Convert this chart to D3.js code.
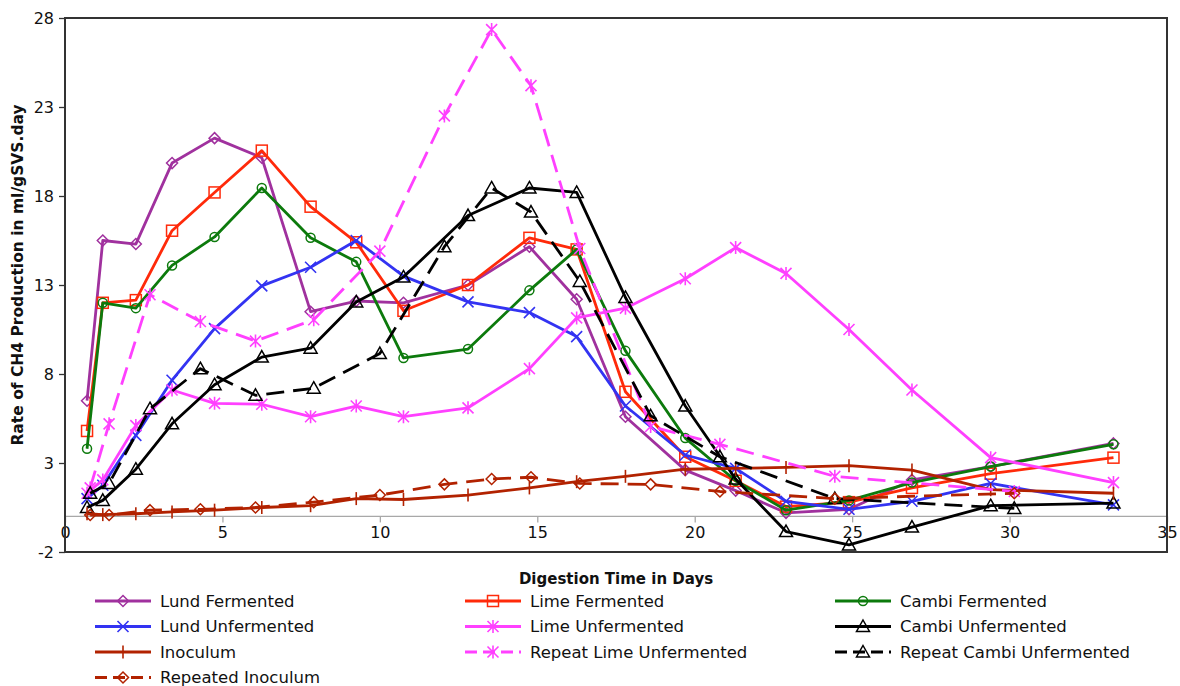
<!DOCTYPE html>
<html><head><meta charset="utf-8">
<script src="https://cdn.jsdelivr.net/npm/d3@7"></script>
<style>
body{margin:0;background:#fff;}
svg text{font-family:"DejaVu Sans",Verdana,sans-serif;}
</style></head>
<body><svg id="chart" width="1180" height="686"></svg>
<script>
const xMain = [0.7, 1.2, 2.25, 3.4, 4.75, 6.25, 7.8, 9.25, 10.75, 12.8, 14.75, 16.25, 17.8, 19.7, 21.3, 22.9, 24.9, 26.9, 29.4, 33.3];
const xRepeat = [0.8, 1.4, 2.7, 4.3, 6.05, 7.9, 10.0, 12.05, 13.55, 14.8, 16.35, 18.6, 20.8, 24.45, 30.15];

const lundFermented = [6.5, 15.5, 15.3, 19.85, 21.25, 20.15, 11.5, 12.1, 12.0, 13.0, 15.15, 12.2, 5.6, 2.6, 1.45, 0.2, 0.4, 2.05, 2.8, 4.1];
const limeFermented = [4.8, 12.0, 12.15, 16.05, 18.2, 20.55, 17.4, 15.4, 11.55, 13.0, 15.65, 15.0, 7.0, 3.35, 2.0, 0.55, 0.8, 1.6, 2.4, 3.3];
const cambiFermented = [3.8, 12.0, 11.7, 14.1, 15.7, 18.45, 15.65, 14.3, 8.9, 9.4, 12.7, 15.0, 9.3, 4.4, 2.0, 0.35, 0.9, 1.9, 2.8, 4.05];
const lundUnfermented = [1.0, 1.75, 4.55, 7.65, 10.55, 12.95, 14.0, 15.5, 13.5, 12.05, 11.45, 10.1, 6.2, 3.45, 2.7, 0.85, 0.4, 0.85, 1.85, 0.65];
const limeUnfermented = [1.3, 2.05, 5.1, 7.1, 6.35, 6.3, 5.6, 6.2, 5.6, 6.1, 8.3, 11.15, 11.7, 13.35, 15.1, 13.65, 10.5, 7.1, 3.3, 1.9];
const cambiUnfermented = [0.5, 0.9, 2.65, 5.2, 7.4, 8.95, 9.45, 12.05, 13.45, 16.9, 18.45, 18.2, 12.3, 6.2, 2.1, -0.85, -1.6, -0.6, 0.6, 0.75];
const inoculum = [0.15, 0.1, 0.15, 0.25, 0.35, 0.5, 0.6, 1.0, 0.95, 1.2, 1.6, 1.95, 2.25, 2.65, 2.7, 2.75, 2.85, 2.6, 1.5, 1.3];
const repeatLimeUnfermented = [1.6, 5.2, 12.45, 10.95, 9.85, 11.05, 14.9, 22.5, 27.35, 24.2, 15.05, 5.05, 4.05, 2.25, 1.4];
const repeatCambiUnfermented = [1.3, 1.85, 6.05, 8.3, 6.8, 7.2, 9.15, 15.15, 18.45, 17.1, 13.2, 5.65, 3.35, 1.0, 0.45];
const repeatedInoculum = [0.08, 0.08, 0.35, 0.4, 0.5, 0.8, 1.2, 1.8, 2.1, 2.2, 1.85, 1.8, 1.4, 1.0, 1.3];

const seriesNames = ["Lund Fermented","Lime Fermented","Cambi Fermented","Lund Unfermented","Lime Unfermented","Cambi Unfermented","Inoculum","Repeat Lime Unfermented","Repeat Cambi Unfermented","Repeated Inoculum"];
const xTicks = [0, 5, 10, 15, 20, 25, 30, 35];
const yTicks = [-2, 3, 8, 13, 18, 23, 28];
const xTitle = "Digestion Time in Days";
const yTitle = "Rate of CH4 Production in ml/gSVS.day";

const series = [
  {name: seriesNames[0], x: xMain, y: lundFermented, color: "#A0319E", marker: "diamond", dash: null},
  {name: seriesNames[1], x: xMain, y: limeFermented, color: "#FF2A0A", marker: "square", dash: null},
  {name: seriesNames[2], x: xMain, y: cambiFermented, color: "#0C7A0C", marker: "circle", dash: null},
  {name: seriesNames[3], x: xMain, y: lundUnfermented, color: "#3333F2", marker: "x", dash: null},
  {name: seriesNames[4], x: xMain, y: limeUnfermented, color: "#FF40FF", marker: "star", dash: null},
  {name: seriesNames[5], x: xMain, y: cambiUnfermented, color: "#000000", marker: "triangle", dash: null},
  {name: seriesNames[6], x: xMain, y: inoculum, color: "#B22200", marker: "plus", dash: null},
  {name: seriesNames[7], x: xRepeat, y: repeatLimeUnfermented, color: "#FF40FF", marker: "star", dash: "18,9"},
  {name: seriesNames[8], x: xRepeat, y: repeatCambiUnfermented, color: "#000000", marker: "triangle", dash: "18,9"},
  {name: seriesNames[9], x: xRepeat, y: repeatedInoculum, color: "#B22200", marker: "diamond", dash: "18,9"}
];

const svg = d3.select("#chart");
const L = 65, R = 1167, T = 18, B = 552;
const x = d3.scaleLinear().domain([0, 35]).range([L, R]);
const y = d3.scaleLinear().domain([-2, 28]).range([B, T]);
const fmt = d => String(d);

// zero line with x ticks
svg.append("line").attr("x1", L).attr("x2", R).attr("y1", y(0)).attr("y2", y(0))
  .attr("stroke", "#a8a8a8").attr("stroke-width", 1.3);
const xAxis = d3.axisBottom(x).tickValues(xTicks).tickSize(6).tickFormat(fmt);
const gx = svg.append("g").attr("transform", `translate(0,${y(0)})`).call(xAxis);
gx.select(".domain").remove();
gx.selectAll(".tick line").attr("stroke", "#a8a8a8").attr("stroke-width", 1.3);
gx.selectAll(".tick text").attr("font-size", 16).attr("fill", "#111").attr("dy", "0.95em").attr("y", 6);

const yAxis = d3.axisLeft(y).tickValues(yTicks).tickSize(6).tickFormat(fmt);
const gy = svg.append("g").attr("transform", `translate(${L},0)`).call(yAxis);
gy.select(".domain").remove();
gy.selectAll(".tick line").attr("stroke", "#333").attr("stroke-width", 1.3);
gy.selectAll(".tick text").attr("font-size", 16).attr("fill", "#111").attr("x", -11);

// plot frame
svg.append("rect").attr("x", L).attr("y", T).attr("width", R - L).attr("height", B - T)
  .attr("fill", "none").attr("stroke", "#333").attr("stroke-width", 2);

// titles
svg.append("text").attr("x", 616).attr("y", 584).attr("text-anchor", "middle")
  .attr("font-size", 15).attr("font-weight", "bold").attr("fill", "#111").text(xTitle);
svg.append("text").attr("transform", `translate(23,${(T + B) / 2 - 10}) rotate(-90)`).attr("text-anchor", "middle")
  .attr("font-size", 15.5).attr("font-weight", "bold").attr("fill", "#111").text(yTitle);

function drawMarker(g, type, cx, cy, color) {
  const s = 5.5;
  if (type === "diamond") {
    g.append("path").attr("d", `M${cx},${cy-s}L${cx+s},${cy}L${cx},${cy+s}L${cx-s},${cy}Z`)
      .attr("fill", "none").attr("stroke", color).attr("stroke-width", 1.5);
  } else if (type === "square") {
    g.append("rect").attr("x", cx - s).attr("y", cy - s).attr("width", 2*s).attr("height", 2*s)
      .attr("fill", "none").attr("stroke", color).attr("stroke-width", 1.5);
  } else if (type === "circle") {
    g.append("circle").attr("cx", cx).attr("cy", cy).attr("r", 4.5)
      .attr("fill", "none").attr("stroke", color).attr("stroke-width", 1.5);
  } else if (type === "triangle") {
    g.append("path").attr("d", `M${cx},${cy-6.5}L${cx+6.5},${cy+5}L${cx-6.5},${cy+5}Z`)
      .attr("fill", "none").attr("stroke", color).attr("stroke-width", 1.5);
  } else if (type === "x") {
    g.append("path").attr("d", `M${cx-s},${cy-s}L${cx+s},${cy+s}M${cx-s},${cy+s}L${cx+s},${cy-s}`)
      .attr("stroke", color).attr("stroke-width", 1.6);
  } else if (type === "star") {
    g.append("path").attr("d", `M${cx-s},${cy-s}L${cx+s},${cy+s}M${cx-s},${cy+s}L${cx+s},${cy-s}M${cx},${cy-s-1}L${cx},${cy+s+1}`)
      .attr("stroke", color).attr("stroke-width", 1.6);
  } else if (type === "plus") {
    g.append("path").attr("d", `M${cx},${cy-s-1}L${cx},${cy+s+1}`)
      .attr("stroke", color).attr("stroke-width", 1.6);
  }
}

const line = d3.line().x(d => x(d[0])).y(d => y(d[1]));
series.forEach(s => {
  const pts = s.x.map((xv, i) => [xv, s.y[i]]);
  const g = svg.append("g");
  g.append("path").attr("d", line(pts)).attr("fill", "none").attr("stroke", s.color)
    .attr("stroke-width", 2.8).attr("stroke-linejoin", "round")
    .attr("stroke-dasharray", s.dash);
  pts.forEach(p => drawMarker(g, s.marker, x(p[0]), y(p[1]), s.color));
});

// legend
const colX = [95, 465, 835];
const rowY = [601, 626.5, 652, 677.5];
series.forEach((s, i) => {
  const cx = colX[i % 3], cy = rowY[Math.floor(i / 3)];
  const g = svg.append("g");
  g.append("line").attr("x1", cx).attr("x2", cx + 56).attr("y1", cy).attr("y2", cy)
    .attr("stroke", s.color).attr("stroke-width", 3).attr("stroke-dasharray", s.dash ? "12,6" : null);
  drawMarker(g, s.marker, cx + 28, cy, s.color);
  g.append("text").attr("x", cx + 65).attr("y", cy).attr("dy", "0.36em")
    .attr("font-size", 16.5).attr("fill", "#111").text(s.name);
});
</script>
</body></html>
